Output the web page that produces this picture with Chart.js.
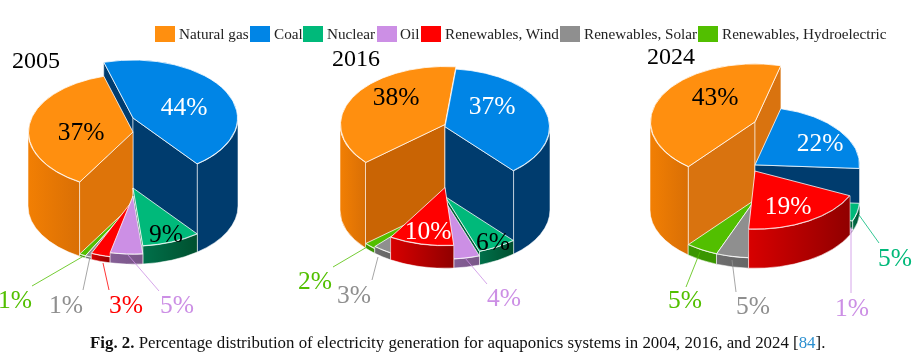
<!DOCTYPE html>
<html>
<head>
<meta charset="utf-8">
<title>Fig. 2</title>
<script src="https://cdn.jsdelivr.net/npm/chart.js@4"></script>
<style>
    html, body { margin: 0; padding: 0; background: #fff; }
    #page { position: relative; width: 917px; height: 359px; overflow: hidden; font-family: "Liberation Serif", serif; color: #111; }
    canvas { position: absolute; left: 0; top: 0; }
    .swatch { position: absolute; top: 26px; width: 19.5px; height: 16px; }
    .legendText { position: absolute; top: 25px; font-size: 15.2px; line-height: 17px; white-space: nowrap; color: #222; }
    .year { position: absolute; font-size: 24px; line-height: 24px; transform: translate(-50%, -50%); color: #000; }
    #caption { position: absolute; left: 90px; top: 334px; font-size: 16.85px; line-height: 18px; white-space: nowrap; color: #111; }
    #caption a { color: #2a8fd0; }
</style>
</head>
<body>
<div id="page">
    <canvas id="pie2005" width="917" height="359"></canvas>
    <canvas id="pie2016" width="917" height="359"></canvas>
    <canvas id="pie2024" width="917" height="359"></canvas>
    <div id="legend"></div>
    <div id="caption"><b>Fig. 2.</b> Percentage distribution of electricity generation for aquaponics systems in 2004, 2016, and 2024 [<a>84</a>].</div>
</div>
<script>
const categories = ['Natural gas', 'Coal', 'Nuclear', 'Oil', 'Renewables, Wind', 'Renewables, Solar', 'Renewables, Hydroelectric'];
const values2005 = [37, 44, 9, 5, 3, 1, 1];
const values2016 = [38, 37, 6, 4, 10, 3, 2];
const values2024 = [43, 22, 5, 1, 19, 5, 5];

const topColors = ['#FF8F0F', '#0085E6', '#00B97A', '#CC8FE5', '#FF0000', '#8F8F8F', '#52BF00'];
const faceColors = ['#DE7409', '#003C6E', '#005F38', '#855F96', '#C80000', '#6E6E6E', '#3A9600'];
const wallFrom = ['#F27F03', '#003C6E', '#00704A', '#855F96', '#D80000', '#6E6E6E', '#3A9600'];
const wallTo = ['#D96F05', '#003C6E', '#00502F', '#7A5689', '#900000', '#666666', '#3A9600'];

const legendSwatchX = [155, 250, 303, 377, 421, 560, 698];
const legendTextX = [179, 274, 327, 400, 445, 584, 722];

const RX = 105;
const TILT = 0.555;

const pies = [
    {
        id: 'pie2005', year: '2005', values: values2005, rotation: 210.6,
        cx: 133, baseY: 206, heightPerPct: 2, gasFace: '#DE7409', yearAt: [36, 60],
        labels: [[81, 133], [184, 108], [166, 235], [177, 306], [126, 306], [66, 306], [15, 301]],
        inks: ['#000', '#fff', '#000', null, null, null, null],
        leaders: [null, null, null, [159, 291, 128, 255], [109, 290, 103, 263], [83, 290, 90, 257], [32, 286, 82, 257]]
    },
    {
        id: 'pie2016', year: '2016', values: values2016, rotation: -130.8,
        cx: 445, baseY: 210, heightPerPct: 2.25, gasFace: '#C96404', yearAt: [356, 58],
        labels: [[396, 98], [492, 107], [493, 243], [504, 299], [428, 232], [354, 296], [315, 282]],
        inks: ['#000', '#fff', '#000', null, '#fff', null, null],
        leaders: [null, null, null, [487, 284, 465, 258], null, [372, 280, 378, 257], [333, 267, 367, 247]]
    },
    {
        id: 'pie2024', year: '2024', values: values2024, rotation: -140.5,
        cx: 755, baseY: 210, heightPerPct: 2.05, gasFace: '#D9730F', yearAt: [671, 56],
        labels: [[715, 98], [820, 144], [895, 259], [852, 309], [788, 207], [753, 307], [685, 301]],
        inks: ['#000', '#fff', null, null, '#fff', null, null],
        leaders: [null, null, [879, 243, 859, 215], [851, 293, 851, 227], null, [736, 292, 732, 260], [686, 287, 700, 252]]
    }
];

const page = document.getElementById('page');
const legend = document.getElementById('legend');

// legend and year headings are plain html
categories.forEach(function (name, i) {
    const box = document.createElement('div');
    box.className = 'swatch';
    box.style.left = legendSwatchX[i] + 'px';
    box.style.background = topColors[i];
    legend.appendChild(box);
    const text = document.createElement('div');
    text.className = 'legendText';
    text.style.left = legendTextX[i] + 'px';
    text.textContent = name;
    legend.appendChild(text);
});

// degrees from 12 o'clock, going clockwise
function toClock(rad) {
    let d = (rad * 180 / Math.PI + 90) % 360;
    if (d < 0) d += 360;
    return d;
}

// back slice first, slice on the viewer's side last
function paintKey(el) {
    const s = toClock(el.startAngle);
    const e = s + (el.endAngle - el.startAngle) * 180 / Math.PI;
    if (s === 0 || e >= 360) return -1;
    if (s <= 180 && e >= 180) return 999;
    return Math.min(s, 360 - e);
}

// part of the rim that faces the viewer (0..PI and 2PI..3PI from 3 o'clock)
function frontArcs(a, b) {
    const two = Math.PI * 2;
    let start = a % two;
    if (start < 0) start += two;
    const end = start + (b - a);
    const out = [];
    [[0, Math.PI], [two, two + Math.PI]].forEach(function (r) {
        const lo = Math.max(start, r[0]);
        const hi = Math.min(end, r[1]);
        if (hi > lo) out.push([lo, hi]);
    });
    return out;
}

function drawFace(ctx, cx, baseY, ry, angle, h, color) {
    const x = cx + RX * Math.cos(angle);
    const y = baseY + ry * Math.sin(angle);
    ctx.beginPath();
    ctx.moveTo(cx, baseY - h);
    ctx.lineTo(x, y - h);
    ctx.lineTo(x, y);
    ctx.lineTo(cx, baseY);
    ctx.closePath();
    ctx.fillStyle = color;
    ctx.fill();
    ctx.strokeStyle = 'rgba(255,255,255,0.7)';
    ctx.lineWidth = 0.8;
    ctx.stroke();
}

function drawWall(ctx, cx, baseY, ry, a, b, h, from, to) {
    const x0 = cx + RX * Math.cos(a);
    const x1 = cx + RX * Math.cos(b);
    const grad = ctx.createLinearGradient(Math.min(x0, x1), 0, Math.max(x0, x1), 0);
    grad.addColorStop(0, from);
    grad.addColorStop(1, to);
    ctx.beginPath();
    ctx.ellipse(cx, baseY - h, RX, ry, 0, a, b);
    ctx.ellipse(cx, baseY, RX, ry, 0, b, a, true);
    ctx.closePath();
    ctx.fillStyle = grad;
    ctx.fill();
    ctx.strokeStyle = 'rgba(255,255,255,0.7)';
    ctx.lineWidth = 0.8;
    ctx.stroke();
}

const prismPlugin = {
    id: 'prism',
    beforeDatasetDraw: function (chart, args, opts) {
        const pie = opts.pie;
        const ctx = chart.ctx;
        const arcs = chart.getDatasetMeta(0).data.map(function (el, i) {
            return { el: el, i: i };
        });
        const ry = RX * TILT;
        arcs.sort(function (p, q) { return paintKey(p.el) - paintKey(q.el); });

        arcs.forEach(function (item) {
            const el = item.el;
            const i = item.i;
            const h = pie.values[i] * pie.heightPerPct;
            const face = i === 0 ? pie.gasFace : faceColors[i];
            const a = el.startAngle;
            const b = el.endAngle;

            // start side shows when it sits left of the axis, end side when right of it
            if (Math.sin(a + Math.PI / 2) < 0) drawFace(ctx, pie.cx, pie.baseY, ry, a, h, face);
            if (Math.sin(b + Math.PI / 2) > 0) drawFace(ctx, pie.cx, pie.baseY, ry, b, h, face);
            frontArcs(a, b).forEach(function (arc) {
                drawWall(ctx, pie.cx, pie.baseY, ry, arc[0], arc[1], h, wallFrom[i], wallTo[i]);
            });

            // top of the slice is the chart's own arc, squashed and lifted
            ctx.save();
            ctx.translate(pie.cx, pie.baseY - h);
            ctx.scale(1, TILT);
            ctx.translate(-el.x, -el.y);
            el.draw(ctx);
            ctx.restore();
        });
        return false;
    },
    afterDatasetsDraw: function (chart, args, opts) {
        const pie = opts.pie;
        const ctx = chart.ctx;
        pie.leaders.forEach(function (line, i) {
            if (!line) return;
            ctx.beginPath();
            ctx.moveTo(line[0], line[1]);
            ctx.lineTo(line[2], line[3]);
            ctx.strokeStyle = topColors[i];
            ctx.lineWidth = 0.8;
            ctx.stroke();
        });
        ctx.font = '25.5px "Liberation Serif"';
        ctx.textAlign = 'center';
        ctx.textBaseline = 'middle';
        pie.values.forEach(function (v, i) {
            ctx.fillStyle = pie.inks[i] || topColors[i];
            ctx.fillText(v + '%', pie.labels[i][0], pie.labels[i][1]);
        });
    }
};

pies.forEach(function (pie) {
    const heading = document.createElement('div');
    heading.className = 'year';
    heading.style.left = pie.yearAt[0] + 'px';
    heading.style.top = pie.yearAt[1] + 'px';
    heading.textContent = pie.year;
    page.appendChild(heading);

    const canvas = document.getElementById(pie.id);
    new Chart(canvas.getContext('2d'), {
        type: 'pie',
        data: {
            labels: categories,
            datasets: [{
                data: pie.values,
                backgroundColor: topColors,
                borderColor: '#fff',
                borderWidth: 1
            }]
        },
        options: {
            responsive: false,
            animation: false,
            rotation: pie.rotation,
            layout: {
                padding: {
                    left: pie.cx - RX,
                    right: canvas.width - pie.cx - RX,
                    top: canvas.height / 2 - RX,
                    bottom: canvas.height / 2 - RX
                }
            },
            plugins: {
                legend: { display: false },
                tooltip: { enabled: false },
                prism: { pie: pie }
            }
        },
        plugins: [prismPlugin]
    });
});
</script>
</body>
</html>
